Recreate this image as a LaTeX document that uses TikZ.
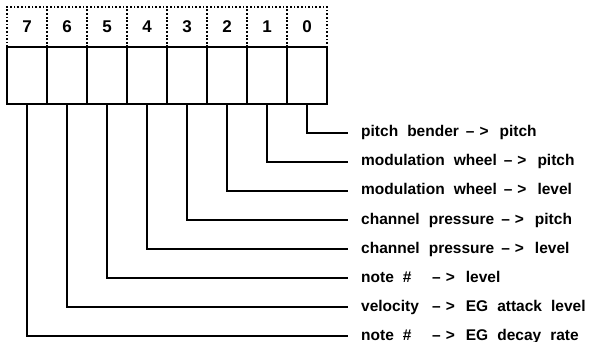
\documentclass[tikz,border=0pt]{standalone}
\usepackage{fontspec}
\setmainfont[WordSpace=2.1]{Liberation Sans}
\usetikzlibrary{positioning}

% arrow between source and destination, with its wide spacing
\newcommand{\maparrow}{\hspace{7pt}--\hspace{5pt}>\hspace{11pt}}
% short sources padded to one width so their arrows line up
\newcommand{\padsrc}[1]{\makebox[64pt][l]{#1}}

\begin{document}
\begin{tikzpicture}[x=1pt, y=-1pt, font=\bfseries]

% =========================
% Canvas
% =========================
\useasboundingbox (0,0) rectangle (592,342);

% =========================
% Styles
% =========================
\tikzset{
    bitcell/.style={
        draw,
        line width=1.3pt,
        outer sep=0pt,
        inner sep=0pt,
        minimum width=40pt,
        minimum height=57pt,
        anchor=north west
    },
    numcell/.style={
        draw,
        line width=1.3pt,
        dash pattern=on 1.6pt off 2pt,
        outer sep=0pt,
        inner sep=0pt,
        minimum width=40pt,
        minimum height=40pt,
        font=\fontsize{17}{20}\selectfont\bfseries
    },
    maplabel/.style={
        anchor=west,
        inner xsep=13pt,
        inner ysep=1pt,
        text height=11.3pt,
        text depth=3.3pt,
        font=\fontsize{15.5}{18}\selectfont\bfseries
    },
    wire/.style={line width=1.3pt}
}

% =========================
% Register cells (bit 7 on the left)
% =========================
\def\cellX{7}   % left edge of bit 7
\def\cellY{47}  % top edge of the solid row

\foreach \b in {7,...,0}{
    \pgfmathsetmacro{\xx}{\cellX+40*(7-\b)}
    \node[bitcell] (cell\b) at (\xx, \cellY) {};
    \node[numcell, above=0pt of cell\b] (num\b) {\b};
}

% =========================
% Mapping labels
% =========================
\def\labX{348}  % end of the wires

\node[maplabel] (lab0) at (\labX, 133) {pitch bender\maparrow pitch};
\node[maplabel] (lab1) at (\labX, 162) {modulation wheel\maparrow pitch};
\node[maplabel] (lab2) at (\labX, 191) {modulation wheel\maparrow level};
\node[maplabel] (lab3) at (\labX, 220) {channel pressure\maparrow pitch};
\node[maplabel] (lab4) at (\labX, 249) {channel pressure\maparrow level};
\node[maplabel] (lab5) at (\labX, 278) {\padsrc{note \#}\maparrow level};
\node[maplabel] (lab6) at (\labX, 307) {\padsrc{velocity}\maparrow EG attack level};
\node[maplabel] (lab7) at (\labX, 336) {\padsrc{note \#}\maparrow EG decay rate};

% =========================
% Wires from each bit to its label
% =========================
\foreach \b in {0,...,7}{
    \draw[wire] (cell\b.south) |- (lab\b.west);
}

\end{tikzpicture}
\end{document}
